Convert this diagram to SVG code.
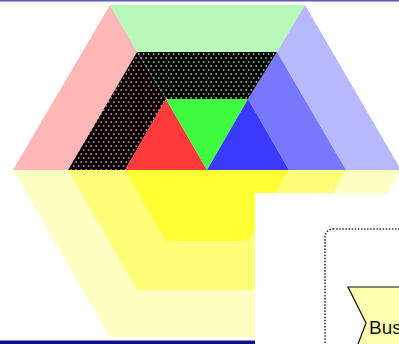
<svg xmlns="http://www.w3.org/2000/svg" width="399" height="344" viewBox="0 0 399 344">
<defs>
<pattern id="dotsP" width="5" height="8" patternUnits="userSpaceOnUse">
<rect width="5" height="8" fill="#000"/>
<circle cx="1.2" cy="2" r="1" fill="#c07a7a"/>
<circle cx="3.7" cy="6" r="1" fill="#c07a7a"/>
</pattern>
<pattern id="dotsG" width="5" height="8" patternUnits="userSpaceOnUse">
<rect width="5" height="8" fill="#000"/>
<circle cx="1.2" cy="2" r="1" fill="#7ab07a"/>
<circle cx="3.7" cy="6" r="1" fill="#7ab07a"/>
</pattern>
<style>
.t{font-family:"Liberation Sans",Arial,sans-serif;font-size:19px;fill:#111}
</style>
</defs>
<rect width="399" height="344" fill="#fff"/>
<g id="logo">
<polygon points="13,170 401,170 305,337 110,337" fill="#ffffc4"/>
<polygon points="68,170 346,170 277,290 137,290" fill="#fefe78"/>
<polygon points="125,170 289,170 248,241 166,241" fill="#ffff33"/>
<polygon points="110,5 137,52 68,170 13,170" fill="#ffb6b6"/>
<polygon points="110,5 305,5 277,52 137,52" fill="#b8f8b8"/>
<polygon points="305,5 401,170 346,170 277,52" fill="#b8b8fc"/>
<polygon points="277,52 346,170 289,170 248,99" fill="#7878fc"/>
<polygon points="137,52 166,99 125,170 68,170" fill="url(#dotsP)"/>
<polygon points="137,52 277,52 248,99 166,99" fill="url(#dotsG)"/>
<polygon points="166,99 125,170 207,170" fill="#ff3a3a"/>
<polygon points="166,99 248,99 207,170" fill="#40fc40"/>
<polygon points="248,99 207,170 289,170" fill="#3a3afc"/>
</g>
<rect x="0" y="0" width="399" height="1.5" fill="#5c5cb4"/>
<rect x="0" y="340.5" width="399" height="3.5" fill="#10108a"/>
<g id="panel">
<rect x="255" y="193" width="150" height="160" fill="#fff"/>
<rect x="325" y="229" width="120" height="140" rx="8" fill="none" stroke="#333" stroke-width="1.6" stroke-dasharray="1.5 1.6"/>
</g>
<g id="bus">
<polygon points="348,287 420,287 420,360 352,360 366,323" fill="#ffffb0" stroke="#111" stroke-width="1.2"/>
<text class="t" x="369" y="334">Bus</text>
</g>
</svg>
